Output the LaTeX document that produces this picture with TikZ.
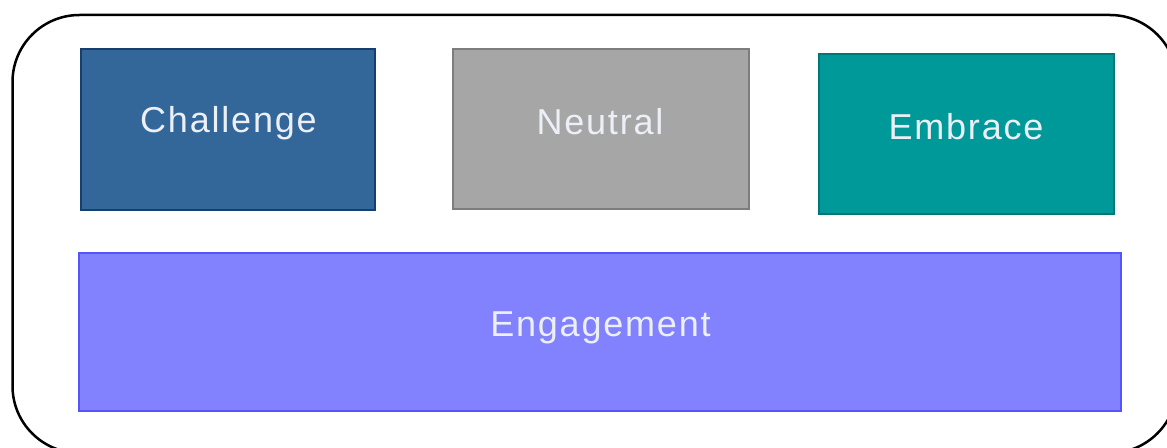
\documentclass[tikz,border=0pt]{standalone}
\usepackage{fontspec}
\setmainfont{Liberation Sans}[LetterSpace=5]
\definecolor{chfill}{RGB}{51,102,153}
\definecolor{chdraw}{RGB}{22,62,110}
\definecolor{nefill}{RGB}{166,166,166}
\definecolor{nedraw}{RGB}{125,125,125}
\definecolor{emfill}{RGB}{0,153,153}
\definecolor{emdraw}{RGB}{0,118,118}
\definecolor{enfill}{RGB}{130,130,255}
\definecolor{endraw}{RGB}{85,85,255}
\definecolor{txt}{RGB}{236,240,246}
\tikzset{
  x=1pt, y=1pt,
  box/.style={rectangle, inner sep=0pt, line width=1.5pt},
  lbl/.style={inner sep=0pt, anchor=base, text=txt, font=\fontsize{36}{40}\selectfont},
  frame/.style={draw=black, line width=2.5pt, rounded corners=67pt}
}
\begin{document}
\begin{tikzpicture}
\useasboundingbox (0,0) rectangle (1167,447);
\clip (0,0) rectangle (1167,447);
\draw[frame] (12.5,432) rectangle (1177,-6);
% boxes (y = 447 - image y)
\node[box, fill=chfill, draw=chdraw, minimum width=294pt, minimum height=161pt] (ch) at (228,317.5) {};
\node[box, fill=nefill, draw=nedraw, minimum width=296pt, minimum height=160pt] (ne) at (601,318) {};
\node[box, fill=emfill, draw=emdraw, minimum width=295pt, minimum height=160pt] (em) at (966.5,313) {};
\node[box, fill=enfill, draw=endraw, minimum width=1042pt, minimum height=158pt] (en) at (600,115) {};
% labels
\node[lbl] (chl) at (228.5,314) {Challenge};
\node[lbl] (nel) at (600,312) {Neutral};
\node[lbl] (eml) at (966,307) {Embrace};
\node[lbl] (enl) at (600.5,110) {Engagement};
\end{tikzpicture}
\end{document}
